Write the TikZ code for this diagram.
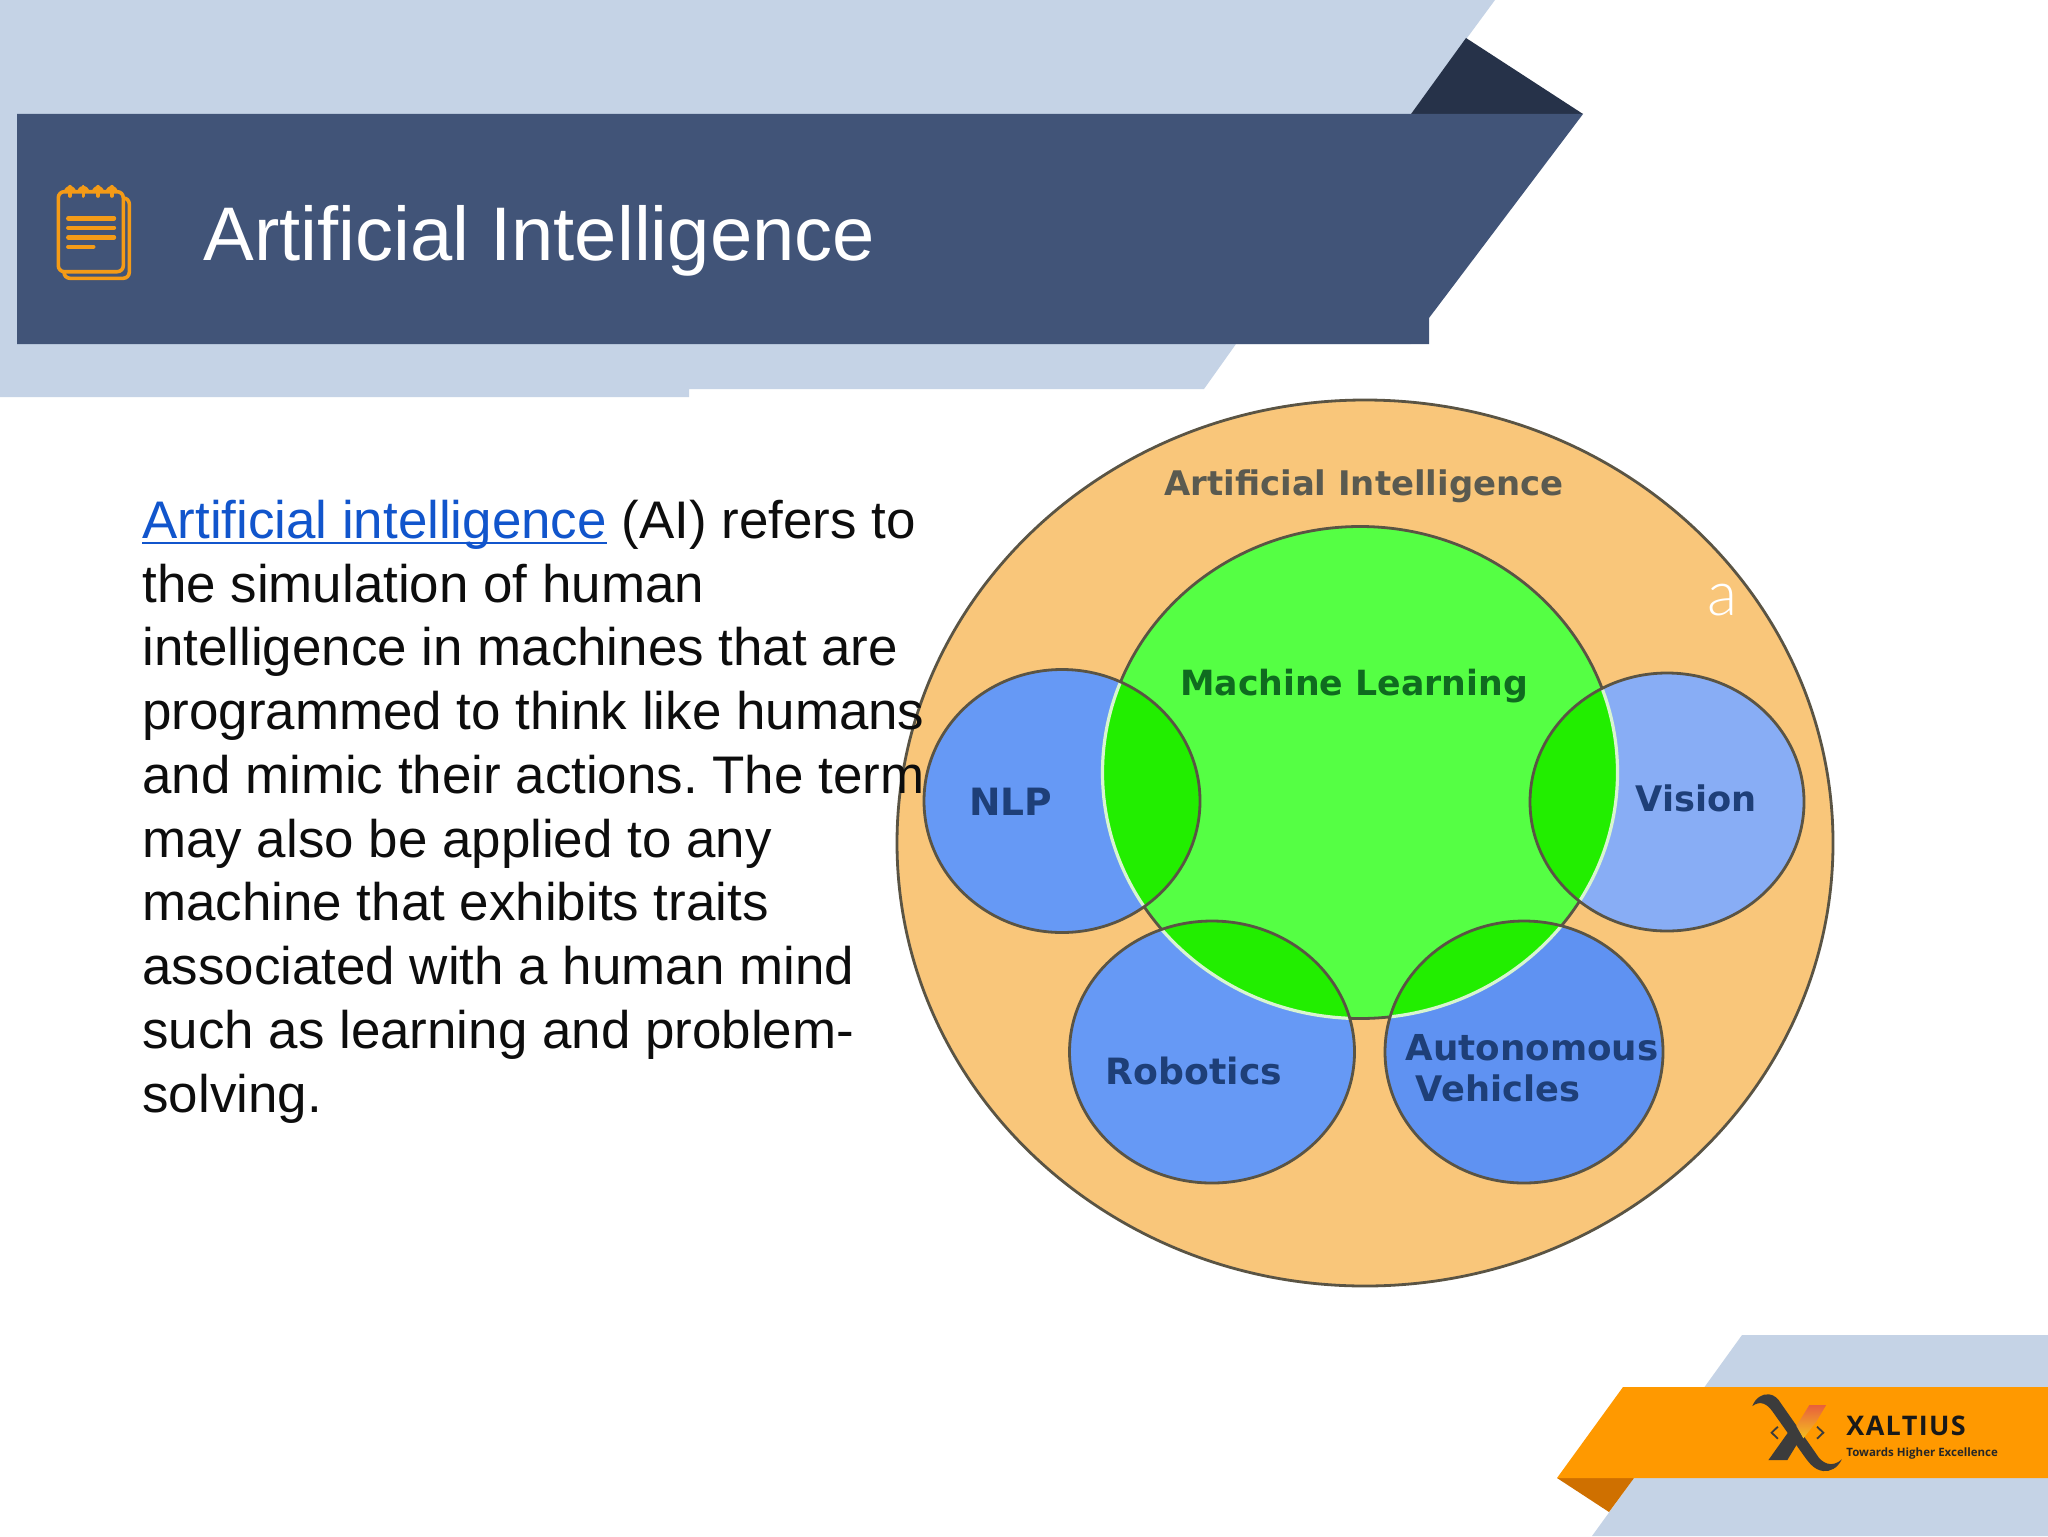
\documentclass[tikz,border=0pt]{standalone}
\usepackage{fontspec}
\setmainfont{Liberation Sans}
\newfontfamily\dejabold[BoldFont=DejaVu Sans Bold]{DejaVu Sans}
\newfontfamily\logofont{Open Sans}
\newfontfamily\brandfont[LetterSpace=5]{Open Sans}
\newfontfamily\thinfont{Lato Light}
\newcommand\linktext[1]{\setbox0=\hbox{#1}\rlap{\rule[-3pt]{\wd0}{1.3pt}}\box0}
\definecolor{paleband}{HTML}{C5D3E6}
\definecolor{band}{HTML}{415478}
\definecolor{bandfold}{HTML}{263249}
\definecolor{ribbon}{HTML}{FF9900}
\definecolor{ribbonfold}{HTML}{CF7000}
\definecolor{icon}{HTML}{F49B17}
\definecolor{outer}{HTML}{F9C67A}
\definecolor{mlgreen}{HTML}{55FF44}
\definecolor{overlapgreen}{HTML}{22EE00}
\definecolor{bluea}{HTML}{6699F5}
\definecolor{blueb}{HTML}{88ADF5}
\definecolor{bluec}{HTML}{5F92F2}
\definecolor{ringline}{HTML}{5A5444}
\definecolor{rim}{HTML}{D8F5D0}
\definecolor{linkblue}{HTML}{1155CC}
\definecolor{logodark}{HTML}{3C3C3C}
\definecolor{logotop}{HTML}{E8603C}
\definecolor{logobottom}{HTML}{F5C020}
\definecolor{bluetext}{HTML}{1E3F78}
\definecolor{greentext}{HTML}{0F6B1F}
\definecolor{greytext}{HTML}{5A5A50}
\tikzset{
  ringdraw/.style={draw=ringline,line width=1.4pt},
  iconline/.style={draw=icon,line width=#1,line cap=round,line join=round},
  iconline/.default=1.8pt,
  bubblelabel/.style={inner sep=0pt,font=\dejabold\bfseries\fontsize{#1}{20}\selectfont},
  chevron/.style={draw=logodark,line width=0.9pt}
}
\begin{document}
\begin{tikzpicture}[x=0.5pt,y=-0.5pt]
\useasboundingbox (0,0) rectangle (2048,1536);
\fill[white] (0,0) rectangle (2048,1536);
% header
\fill[paleband] (0,0) -- (1495,0) -- (1411,114) -- (1411,344) -- (1236,344) -- (1204,389) -- (689,389) -- (689,397) -- (0,397) -- cycle;
\fill[bandfold] (1466,38) -- (1583,114) -- (1411,114) -- cycle;
\fill[band] (17,114) -- (1583,114) -- (1429,318) -- (1429,344) -- (17,344) -- cycle;
% notebook icon
\draw[iconline,rounded corners=3pt] (123.5,198) -- (129.3,198) -- (129.3,278.3) -- (64,278.3) -- (64,272);
\draw[iconline,rounded corners=3pt] (58.3,191.7) rectangle (123.3,271.7);
\foreach \rx in {70,83.3,98,111.7}{
  \draw[iconline] (\rx,186.7) -- (\rx,196);
  \fill[icon] (\rx-6,192) arc[start angle=180,end angle=360,radius=6] -- cycle;
}
\draw[iconline=2.2pt] (68.3,218.3) -- (114,218.3);
\draw[iconline=2.2pt] (68.3,227.7) -- (114,227.7);
\draw[iconline=2.2pt] (68.3,237.3) -- (114,237.3);
\draw[iconline=2.2pt] (68.3,246.7) -- (93.3,246.7);
\node[anchor=base west,inner sep=0pt,text=white,font=\fontsize{38}{44}\selectfont] (title) at (203,260) {Artificial Intelligence};
% footer
\fill[paleband] (1742,1335) -- (2048,1335) -- (2048,1387) -- (1704.5,1387) -- cycle;
\fill[paleband] (1634,1478) -- (2048,1478) -- (2048,1536) -- (1592,1536) -- cycle;
\fill[ribbonfold] (1557,1478) -- (1634,1478) -- (1609,1512) -- cycle;
\fill[ribbon] (1623,1387) -- (2048,1387) -- (2048,1478) -- (1557,1478) -- cycle;
% logo
\begin{scope}[shift={(1500,1300)},x=0.17476pt,y=-0.16667pt]
\fill[logodark] (722,318) .. controls (730,295) and (750,280) .. (770,283) .. controls (785,285) and (795,295) .. (805,312) -- (905,462) .. controls (920,490) and (950,505) .. (978,478) .. controls (965,505) and (945,515) .. (925,513) .. controls (900,510) and (885,490) .. (870,468) -- (780,335) .. controls (765,312) and (745,300) .. (722,318) -- cycle;
\fill[logodark] (768,480) -- (822,480) -- (850,432) -- (825,396) -- cycle;
\shade[top color=logotop,bottom color=logobottom] (885,315) -- (933,315) -- (905,365) -- (868,415) -- (848,378) -- cycle;
\draw[chevron] (795,380) -- (777,398) -- (795,416);
\draw[chevron] (907,380) -- (925,398) -- (907,416);
\end{scope}
\node[anchor=base west,inner sep=0pt,text=black!90,font=\brandfont\bfseries\fontsize{13.5}{15}\selectfont] (brand) at (1846,1435) {XALTIUS};
\node[anchor=base west,inner sep=0pt,text=black!85,font=\logofont\bfseries\fontsize{5.75}{8}\selectfont] (tagline) at (1846,1456) {Towards Higher Excellence};
% Venn diagram
\fill[outer] (1365,843) ellipse [x radius=468,y radius=443];
\draw[ringdraw] (1365,843) ellipse [x radius=468,y radius=443];
\fill[mlgreen] (1360,772.5) ellipse [x radius=257.5,y radius=246];
\draw[ringdraw] (1360,772.5) ellipse [x radius=257.5,y radius=246];
\foreach \cx/\cy/\rx/\ry/\col in {1062/801/138/131.5/bluea,1667/802/137/129/blueb,1212/1052/142.5/131/bluea,1524/1052/139/131/bluec}{
  \fill[\col] (\cx,\cy) ellipse [x radius=\rx,y radius=\ry];
  \begin{scope}
    \clip (1360,772.5) ellipse [x radius=257.5,y radius=246];
    \fill[overlapgreen] (\cx,\cy) ellipse [x radius=\rx,y radius=\ry];
  \end{scope}
  \begin{scope}
    \clip (\cx,\cy) ellipse [x radius=\rx,y radius=\ry];
    \draw[rim,line width=1.6pt] (1360,772.5) ellipse [x radius=257.5,y radius=246];
  \end{scope}
  \draw[ringdraw] (\cx,\cy) ellipse [x radius=\rx,y radius=\ry];
}
\node[bubblelabel=16.95,text=greytext] (ailabel) at (1364,486) {Artificial Intelligence};
\node[bubblelabel=17.35,text=greentext] (mllabel) at (1354,686) {Machine Learning};
\node[bubblelabel=18.8,text=bluetext] (nlp) at (1011,802) {NLP};
\node[bubblelabel=17.6,text=bluetext] (vision) at (1696,798) {Vision};
\node[bubblelabel=18.1,text=bluetext] (robotics) at (1194,1071) {Robotics};
\node[bubblelabel=17.85,text=bluetext] (auto) at (1532,1048) {Autonomous};
\node[bubblelabel=17.6,text=bluetext] (vehicles) at (1498,1088) {Vehicles};
\node[inner sep=0pt,text=white,font=\thinfont\fontsize{31}{34}\selectfont] (stray) at (1722.5,600) {a};
% body text
\node[anchor=north west,inner sep=0pt,align=left,text=black!95,font=\frenchspacing\fontsize{26.45}{31.87}\selectfont] (body) at (142,499.6) {{\color{linkblue}\linktext{Artificial intelligence}} (AI) refers to\\
the simulation of human\\
intelligence in machines that are\\
programmed to think like humans\\
and mimic their actions. The term\\
may also be applied to any\\
machine that exhibits traits\\
associated with a human mind\\
such as learning and problem-\\
solving.};
\end{tikzpicture}
\end{document}
